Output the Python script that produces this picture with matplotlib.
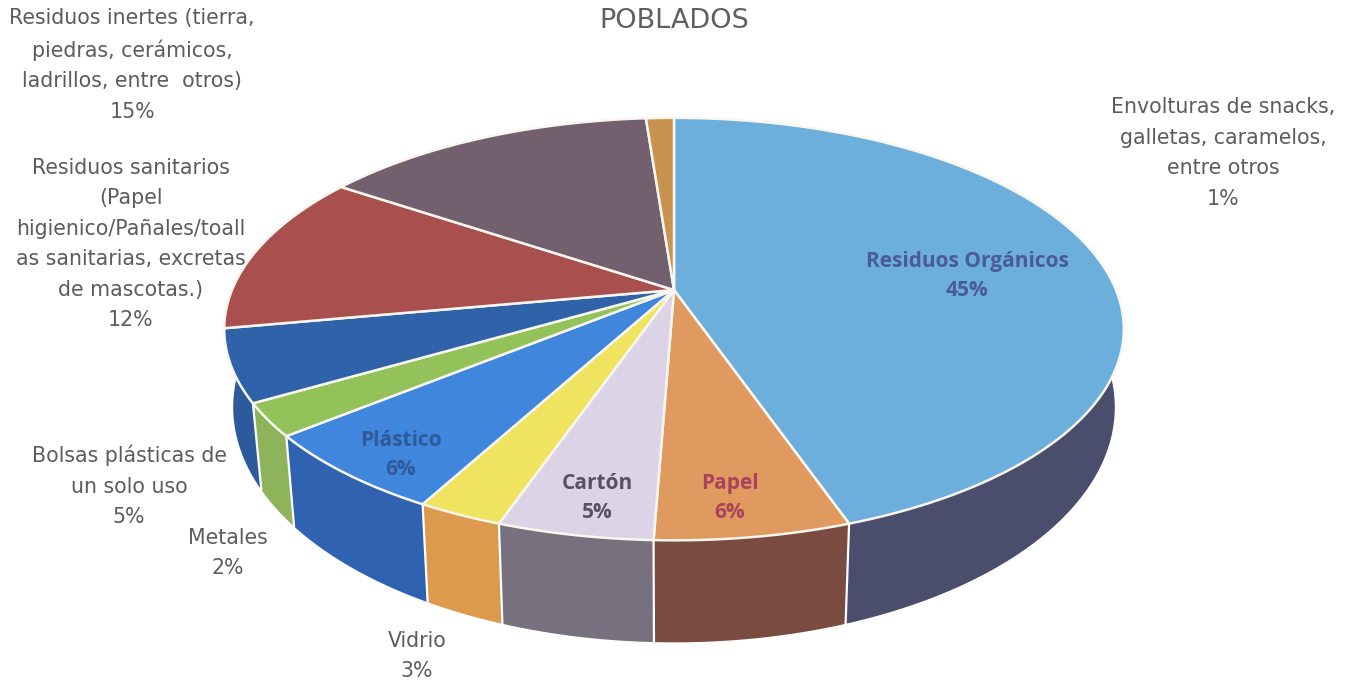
import matplotlib
matplotlib.use('Agg')
import matplotlib.pyplot as plt
import numpy as np

plt.rcParams['font.family'] = ['DejaVu Sans']

# slice sizes as measured on the picture, printed labels are separate
shares = [44.7, 5.9, 4.7, 2.6, 6.2, 2.5, 5.5, 12.3, 14.4, 1.2]
percent_labels = ['45%', '6%', '5%', '3%', '6%', '2%', '5%', '12%', '15%', '1%']
names = ['Residuos Orgánicos', 'Papel', 'Cartón', 'Vidrio', 'Plástico', 'Metales',
         'Bolsas plásticas de\nun solo uso',
         'Residuos sanitarios\n(Papel\nhigienico/Pañales/toall\nas sanitarias, excretas\nde mascotas.)',
         'Residuos inertes (tierra,\npiedras, cerámicos,\nladrillos, entre  otros)',
         'Envolturas de snacks,\ngalletas, caramelos,\nentre otros']
top_colors = ['#6cafdc', '#e0995f', '#dcd4e6', '#efe35f', '#3f86dc', '#93c25a',
              '#2f62a8', '#a9504f', '#73606f', '#c8934e']
side_colors = ['#4a4e6c', '#7a4b40', '#77707f', '#dc9a4c', '#2f62b0', '#8db45a', '#2c5a9c']

# label centres in pixels, same order as shares
label_pos = [(967, 276), (730, 498), (597, 498), (417, 656), (401, 455), (228, 553),
             (129, 486), (131, 244), (132, 65), (1223, 153)]
inside = {'Residuos Orgánicos': '#4b5a9c', 'Papel': '#a8435c', 'Cartón': '#55535f',
          'Plástico': '#2f5a9a'}

CX, CY = 674, 290
RX, RY, K = 442, 204, 0.185


def top_rim(theta):
    # perspective view of the disc, theta clockwise from 12 o'clock
    u, v = np.sin(theta), np.cos(theta)
    w = 1 + K * v
    return CX + RX * u / w, CY - RY * v / w


def bottom_rim(theta):
    x, y = top_rim(theta)
    return CX + 0.98 * (x - CX), y + 102 - 0.113 * (540 - y)


fig = plt.figure(figsize=(13.47, 6.84), dpi=100)
ax = fig.add_axes([0, 0, 1, 1])
ax.set_xlim(0, 1347)
ax.set_ylim(684, 0)
ax.axis('off')

edges = np.cumsum([0] + shares) / sum(shares) * 2 * np.pi

# sides first, only the front slices show one
for i in range(len(side_colors)):
    a0 = max(edges[i], np.radians(80))
    a1 = edges[i + 1] if i < len(side_colors) - 1 else np.radians(282)
    t = np.linspace(a0, a1, 80)
    x1, y1 = top_rim(t)
    x2, y2 = bottom_rim(t)
    ax.fill(np.r_[x1, x2[::-1]], np.r_[y1, y2[::-1]], color=side_colors[i], lw=0, zorder=1)

for e in edges[1:7]:
    x1, y1 = top_rim(e)
    x2, y2 = bottom_rim(e)
    ax.plot([x1, x2], [y1, y2], color='white', lw=1.6, zorder=2)

# top face
for i in range(len(shares)):
    t = np.linspace(edges[i], edges[i + 1], 150)
    x, y = top_rim(t)
    ax.fill(np.r_[CX, x], np.r_[CY, y], facecolor=top_colors[i], edgecolor='#f8f6ee',
            lw=1.8, joinstyle='round', zorder=3)

for i, name in enumerate(names):
    label = name + '\n' + percent_labels[i]
    if name in inside:
        ax.text(*label_pos[i], label, color=inside[name], fontsize=15, fontweight='bold',
                family='Open Sans', ha='center', va='center', linespacing=1.48, zorder=5)
    else:
        ax.text(*label_pos[i], label, color='#5c5c5c', fontsize=14.8,
                ha='center', va='center', linespacing=1.65, zorder=5)

ax.text(674, 21, 'POBLADOS', color='#606060', fontsize=19.5, ha='center', va='center')

fig.savefig('out.png', dpi=100, facecolor='white')
